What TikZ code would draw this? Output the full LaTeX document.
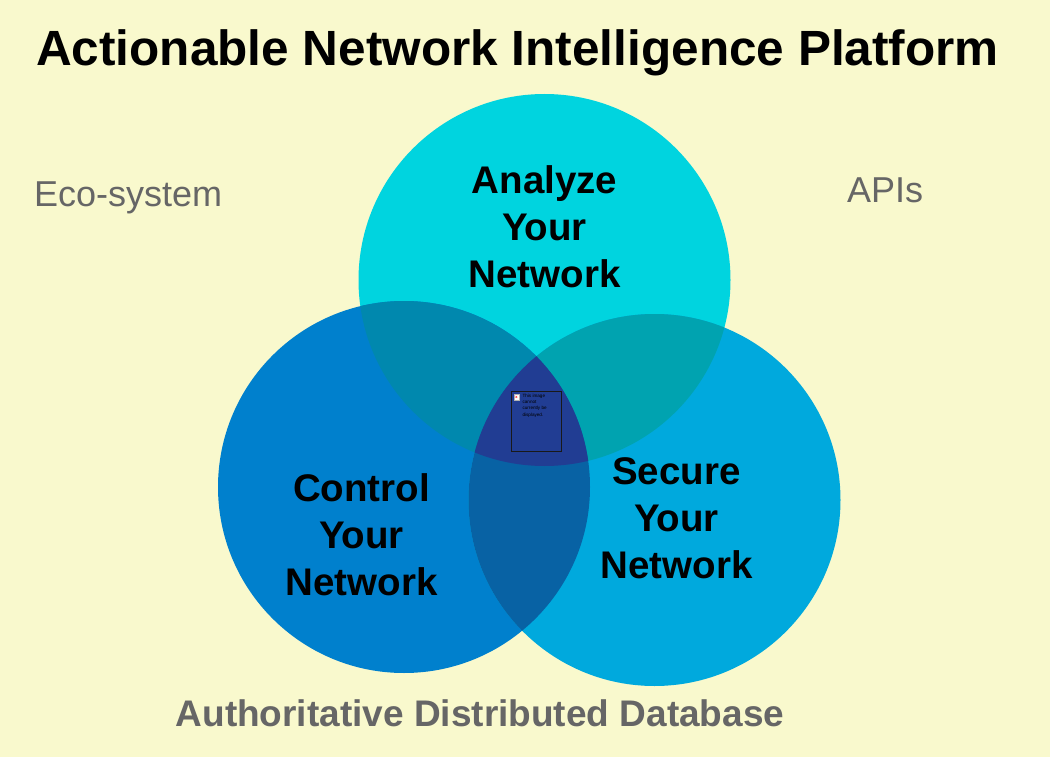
\documentclass[tikz,border=0pt]{standalone}
\usepackage{fontspec}
\setmainfont{Liberation Sans}
\definecolor{bgyellow}{HTML}{F9F9CD}
\definecolor{cyanA}{HTML}{00D4DF}
\definecolor{blueC}{HTML}{0080CD}
\definecolor{blueS}{HTML}{00A9DD}
\definecolor{ovAC}{HTML}{0088AE}
\definecolor{ovAS}{HTML}{00A3B0}
\definecolor{ovCS}{HTML}{0862A4}
\definecolor{ovAll}{HTML}{213D93}
\definecolor{graytext}{HTML}{666666}
\begin{document}
\begin{tikzpicture}[x=1pt,y=-1pt,
  lbl/.style={font=\fontsize{38.5}{47}\selectfont\bfseries, align=center, inner sep=0pt, text=black},
  side/.style={font=\fontsize{36}{43}\selectfont, text=graytext, inner sep=0pt, anchor=base west},
  ring/.style={circle, minimum size=372pt, inner sep=0pt}]
\fill[bgyellow] (0,0) rectangle (1050,757);
\useasboundingbox (0,0) rectangle (1050,757);
% circles
\node[ring, fill=cyanA] (analyze) at (544.5,280) {};
\node[ring, fill=blueC] (control) at (404,487) {};
\node[ring, fill=blueS] (secure) at (654.5,500) {};
% overlaps
\begin{scope}
  \clip (544.5,280) circle (186pt);
  \fill[ovAC] (404,487) circle (186pt);
  \fill[ovAS] (654.5,500) circle (186pt);
\end{scope}
\begin{scope}
  \clip (404,487) circle (186pt);
  \fill[ovCS] (654.5,500) circle (186pt);
  \clip (654.5,500) circle (186pt);
  \fill[ovAll] (544.5,280) circle (186pt);
\end{scope}
% placeholder image
\node[draw=black!90, line width=1.3pt, minimum width=50pt, minimum height=60pt, inner sep=0pt, anchor=north west] (ph) at (511,391) {};
\node[draw=gray!60, fill=white, minimum size=5.5pt, inner sep=0pt, anchor=north west, line width=0.4pt] (phicon) at ([shift={(2.5pt,-3pt)}]ph.north west) {};
\node[text=red, font=\fontsize{4}{4}\selectfont\bfseries, inner sep=0pt] at (phicon.center) {x};
\node[anchor=north west, inner sep=0pt, align=left, font=\fontsize{4.6}{6.4}\selectfont, text=black] (phtext) at ([shift={(3pt,0.5pt)}]phicon.north east) {This image\\cannot\\currently be\\displayed.};
% title
\node[font=\fontsize{49.5}{58}\selectfont\bfseries, inner sep=0pt, anchor=base] (title) at (517.5,66) {Actionable Network Intelligence Platform};
% labels
\node[lbl, anchor=base] (ta) at (544.5,287) {Analyze\\Your\\Network};
\node[lbl, anchor=base] (tc) at (361.5,595) {Control\\Your\\Network};
\node[lbl, anchor=base] (ts) at (676.5,578) {Secure\\Your\\Network};
\node[side] (eco) at (34,207) {Eco-system};
\node[side] (apis) at (847,203) {APIs};
\node[font=\fontsize{37}{44}\selectfont\bfseries, text=graytext, inner sep=0pt, anchor=base] (db) at (480,726) {Authoritative Distributed Database};
\end{tikzpicture}
\end{document}
